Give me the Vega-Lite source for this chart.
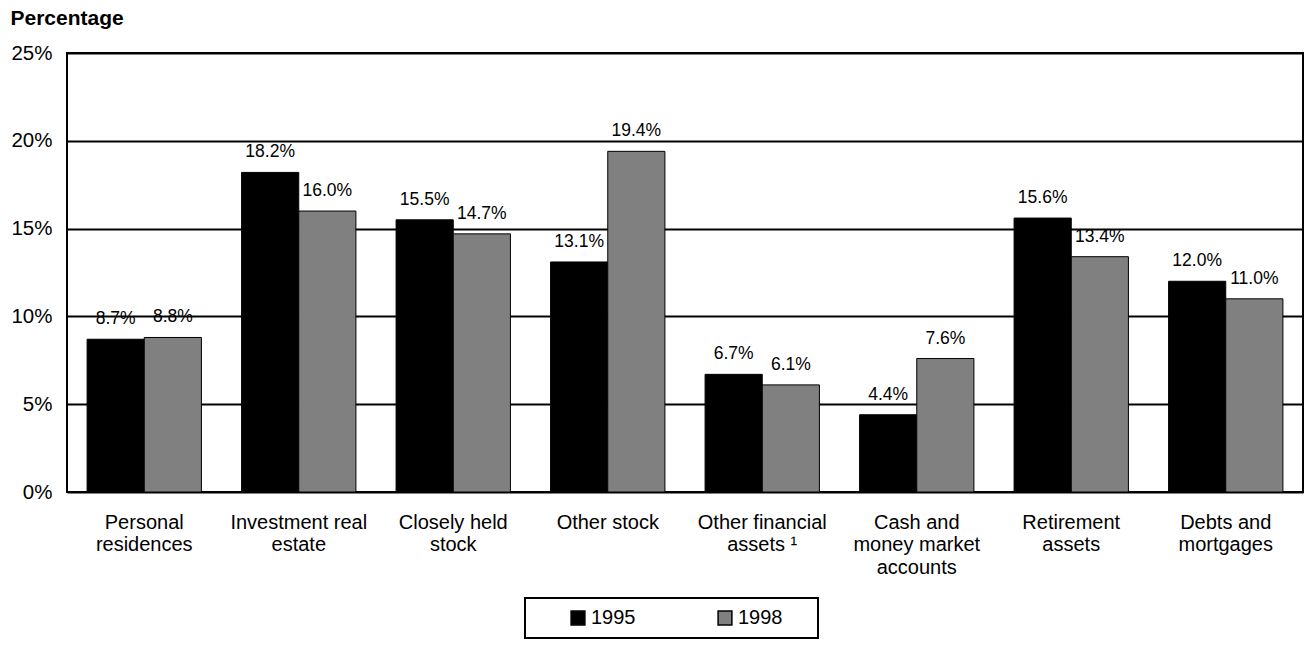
{
  "$schema": "https://vega.github.io/schema/vega-lite/v6.json",
  "width": 1236,
  "height": 439,
  "autosize": {"type": "none"},
  "padding": {"left": 67, "top": 53, "right": 1, "bottom": 153},
  "background": "white",
  "config": {
    "font": "Liberation Sans",
    "view": {"stroke": "black", "strokeWidth": 2}
  },
  "data": {
    "values": [
      {"asset": "Personal|residences", "year": "1995", "share": 0.087},
      {"asset": "Personal|residences", "year": "1998", "share": 0.088},
      {"asset": "Investment real|estate", "year": "1995", "share": 0.182},
      {"asset": "Investment real|estate", "year": "1998", "share": 0.160},
      {"asset": "Closely held|stock", "year": "1995", "share": 0.155},
      {"asset": "Closely held|stock", "year": "1998", "share": 0.147},
      {"asset": "Other stock", "year": "1995", "share": 0.131},
      {"asset": "Other stock", "year": "1998", "share": 0.194},
      {"asset": "Other financial|assets ¹", "year": "1995", "share": 0.067},
      {"asset": "Other financial|assets ¹", "year": "1998", "share": 0.061},
      {"asset": "Cash and|money market|accounts", "year": "1995", "share": 0.044},
      {"asset": "Cash and|money market|accounts", "year": "1998", "share": 0.076},
      {"asset": "Retirement|assets", "year": "1995", "share": 0.156},
      {"asset": "Retirement|assets", "year": "1998", "share": 0.134},
      {"asset": "Debts and|mortgages", "year": "1995", "share": 0.120},
      {"asset": "Debts and|mortgages", "year": "1998", "share": 0.110}
    ]
  },
  "encoding": {
    "x": {
      "field": "asset",
      "type": "nominal",
      "sort": null,
      "scale": {"paddingInner": 0.26, "paddingOuter": 0.13},
      "axis": {
        "title": null,
        "labelAngle": 0,
        "labelExpr": "split(datum.label, '|')",
        "labelFontSize": 20,
        "labelLineHeight": 22.5,
        "labelPadding": 20,
        "labelColor": "black",
        "labelLimit": 220,
        "ticks": false,
        "domain": false
      }
    },
    "xOffset": {"field": "year", "type": "nominal"},
    "y": {
      "field": "share",
      "type": "quantitative",
      "scale": {"domain": [0, 0.25]},
      "axis": {
        "values": [0, 0.05, 0.1, 0.15, 0.2, 0.25],
        "format": ".0%",
        "grid": true,
        "gridColor": "black",
        "gridWidth": 2,
        "gridOpacity": 1,
        "ticks": false,
        "domain": false,
        "labelFontSize": 20.5,
        "labelColor": "black",
        "labelPadding": 15,
        "title": "Percentage",
        "titleAngle": 0,
        "titleFontWeight": "bold",
        "titleFontSize": 21,
        "titleColor": "black",
        "titleAlign": "left",
        "titleBaseline": "alphabetic",
        "titleX": -57,
        "titleY": -29
      }
    }
  },
  "layer": [
    {
      "mark": {"type": "bar", "stroke": "black", "strokeWidth": 1},
      "encoding": {
        "color": {
          "field": "year",
          "type": "nominal",
          "scale": {"domain": ["1995", "1998"], "range": ["black", "#808080"]},
          "legend": {
            "title": " ",
            "titleOrient": "right",
            "titlePadding": 26,
            "titleFontSize": 20,
            "orient": "none",
            "legendX": 458,
            "legendY": 545,
            "direction": "horizontal",
            "columns": 2,
            "strokeColor": "black",
            "fillColor": "white",
            "padding": 10,
            "symbolType": "square",
            "symbolSize": 190,
            "symbolStrokeColor": "black",
            "symbolStrokeWidth": 1.5,
            "symbolOffset": 33,
            "labelFontSize": 20,
            "labelColor": "black",
            "labelOffset": 3,
            "columnPadding": 46,
            "encode": {"legend": {"update": {"strokeWidth": {"value": 2}}}}
          }
        }
      }
    },
    {
      "mark": {"type": "text", "baseline": "alphabetic", "dy": -15, "fontSize": 17.5, "color": "black"},
      "encoding": {
        "text": {"field": "share", "type": "quantitative", "format": ".1%"}
      }
    }
  ]
}
